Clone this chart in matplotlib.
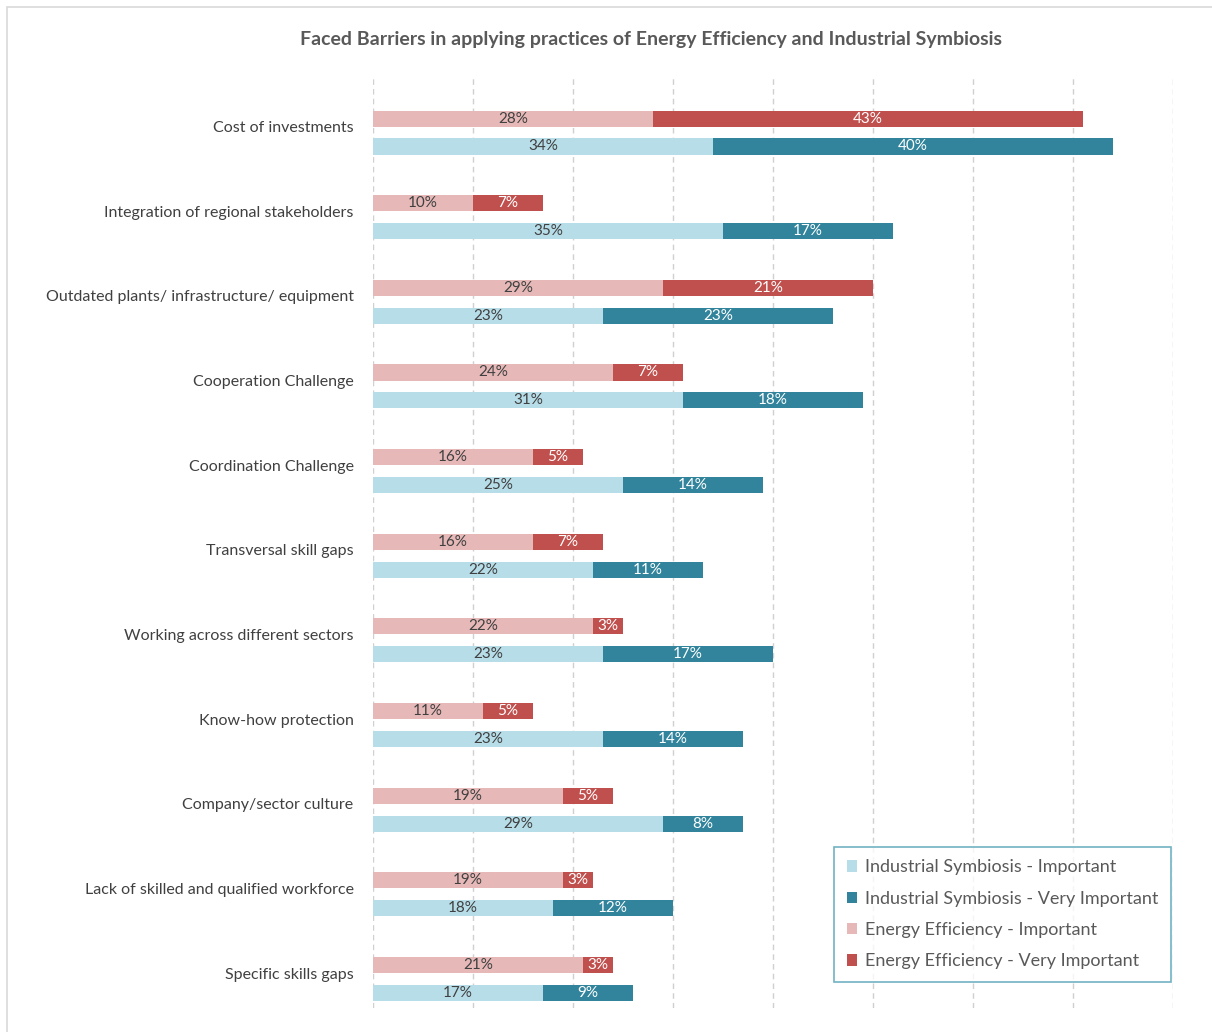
import numpy as np
import matplotlib.pyplot as plt
from matplotlib.patches import Rectangle

plt.rcParams['font.family'] = ['Lato', 'DejaVu Sans']

categories = ['Cost of investments', 'Integration of regional stakeholders',
              'Outdated plants/ infrastructure/ equipment', 'Cooperation Challenge',
              'Coordination Challenge', 'Transversal skill gaps',
              'Working across different sectors', 'Know-how protection',
              'Company/sector culture', 'Lack of skilled and qualified workforce',
              'Specific skills gaps']
ee_important = [28, 10, 29, 24, 16, 16, 22, 11, 19, 19, 21]
ee_very = [43, 7, 21, 7, 5, 7, 3, 5, 5, 3, 3]
is_important = [34, 35, 23, 31, 25, 22, 23, 23, 29, 18, 17]
is_very = [40, 17, 23, 18, 14, 11, 17, 14, 8, 12, 9]

c_is_imp = '#b7dde8'
c_is_very = '#31849b'
c_ee_imp = '#e6b9b8'
c_ee_very = '#c0504d'
dark = '#404040'

fig = plt.figure(figsize=(12.12, 10.32), dpi=100)
ax = fig.add_axes([373/1212, 1 - 1008/1032, 800/1212, 930/1032])

# outer chart border
fig.patches.append(Rectangle((7/1212, -0.01), 1.0, 1 - 7/1032 + 0.01,
                             transform=fig.transFigure, fill=False,
                             edgecolor='#d9d9d9', lw=1.2))

y = np.arange(len(categories))
off = 0.165
h = 0.19

ee1 = ax.barh(y - off, ee_important, height=h, color=c_ee_imp,
              label='Energy Efficiency - Important')
ee2 = ax.barh(y - off, ee_very, left=ee_important, height=h, color=c_ee_very,
              label='Energy Efficiency - Very Important')
is1 = ax.barh(y + off, is_important, height=h, color=c_is_imp,
              label='Industrial Symbiosis - Important')
is2 = ax.barh(y + off, is_very, left=is_important, height=h, color=c_is_very,
              label='Industrial Symbiosis - Very Important')

for bars, col in [(ee1, dark), (ee2, 'white'), (is1, dark), (is2, 'white')]:
    ax.bar_label(bars, labels=['%d%%' % b.get_width() for b in bars],
                 label_type='center', color=col, fontsize=11)

ax.set_xlim(0, 80)
ax.set_ylim(10.343, -0.644)
ax.set_xticks(np.arange(0, 81, 10))
ax.xaxis.grid(True, linestyle=(0, (4, 3)), color='#d0d0d0', lw=1)
ax.set_axisbelow(True)
ax.tick_params(axis='x', length=0, labelbottom=False)
for s in ax.spines.values():
    s.set_visible(False)

ax.set_yticks(y - 0.07)
ax.set_yticklabels(categories, fontsize=11.5, color=dark)
ax.tick_params(axis='y', length=0, pad=14)

fig.text(651/1212, 1 - 40/1032, 'Faced Barriers in applying practices of Energy Efficiency and Industrial Symbiosis',
         ha='center', va='center', fontsize=14, fontweight='bold', color='#595959')

handles = [is1, is2, ee1, ee2]
leg = ax.legend(handles=handles, labels=[hh.get_label() for hh in handles],
                loc='lower right', bbox_to_anchor=(0.997, 0.028), fontsize=13,
                frameon=True, fancybox=False, handlelength=0.6, handleheight=0.6,
                handletextpad=0.4, labelspacing=0.85, borderpad=0.7,
                borderaxespad=0, labelcolor='#595959')
leg.get_frame().set_edgecolor('#4f9fb5')
leg.get_frame().set_linewidth(1.2)

fig.savefig('out.png', dpi=100)
